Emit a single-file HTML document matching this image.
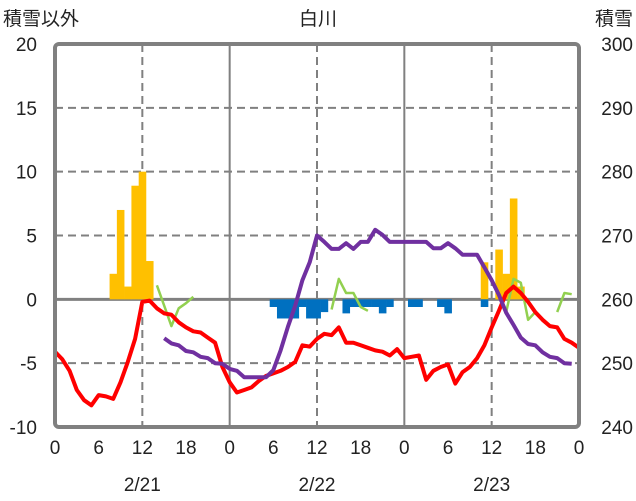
<!DOCTYPE html>
<html><head><meta charset="utf-8"><style>
body{margin:0;background:#fff;width:636px;height:501px;overflow:hidden}
svg{display:block;font-family:"Liberation Sans","Noto Sans CJK JP",sans-serif}
</style></head><body>
<svg id="chart" width="636" height="501" viewBox="0 0 636 501">
<g id="grid"></g>
<g id="bars"></g>
<g id="lines"></g>
<rect x="55" y="44" width="524" height="383" rx="4" fill="none" stroke="#808080" stroke-width="4"/>
<g id="labels"></g>
<text x="3" y="25" font-size="19" fill="#222">積雪以外</text>
<text x="318" y="25" font-size="19" fill="#222" text-anchor="middle">白川</text>
<text x="633" y="25" font-size="19" fill="#222" text-anchor="end">積雪</text>
</svg>
<script>
const leftTicks=[20,15,10,5,0,-5,-10];
const rightTicks=[300,290,280,270,260,250,240];
const hourTicks=[0,6,12,18,0,6,12,18,0,6,12,18,0];
const dayLabels=["2/21","2/22","2/23"];
const N=null;
const temp=[-4.1,-4.7,-5.6,-7.1,-7.9,-8.3,-7.5,-7.6,-7.8,-6.5,-4.9,-3.1,-0.2,-0.1,-0.7,-1.1,-1.2,-1.8,-2.2,-2.5,-2.6,-3.0,-3.4,-5.3,
-6.5,-7.3,-7.1,-6.9,-6.4,-6.0,-5.8,-5.6,-5.3,-4.9,-3.6,-3.7,-3.1,-2.7,-2.8,-2.2,-3.4,-3.4,-3.6,-3.8,-4.0,-4.1,-4.4,-3.9,
-4.6,-4.5,-4.4,-6.3,-5.6,-5.3,-5.1,-6.6,-5.7,-5.3,-4.6,-3.6,-2.2,-0.9,0.5,1.0,0.5,-0.2,-1.0,-1.6,-2.1,-2.2,-3.1,-3.4,-3.8];
const snowDepth=[N,N,N,N,N,N,N,N,N,N,N,N,N,N,N,253.9,253.1,252.8,251.9,251.7,251.0,250.8,250.0,249.9,
249.1,248.8,247.8,247.8,247.8,247.8,248.9,252.0,255.7,259.0,263.0,265.8,270.0,269.0,267.9,267.9,268.8,267.9,269.0,269.0,270.9,270.1,269.0,269.0,
269.0,269.0,269.0,269.0,268.0,268.0,268.8,268.0,267.0,267.0,267.0,265.0,263.0,260.7,257.9,256.0,254.0,253.0,252.8,251.7,251.0,250.8,250.0,249.9];
const wind=[N,N,N,N,N,N,N,N,N,N,N,N,N,N,1.1,-0.5,-2.1,-0.7,-0.3,0.2,N,N,N,N,
N,N,N,N,N,N,N,N,N,N,N,N,N,N,-0.8,1.6,0.5,0.5,-0.6,-0.9,N,N,N,N,
N,N,N,N,N,N,N,N,N,N,N,N,N,N,-1.0,1.6,1.3,-1.6,-1.0,N,N,-1.0,0.5,0.4];
const precipHours=[8,9,10,11,12,13,59,61,62,63,64];
const precipValues=[2,7,1,8.9,10,3,2.9,3.9,2.0,7.9,1.0];
const meltHours=[30,31,32,33,34,35,36,37,40,41,42,43,44,45,46,49,50,53,54,59];
const meltValues=[-0.6,-1.5,-1.5,-1.5,-0.6,-1.5,-1.5,-1.0,-1.1,-0.6,-0.6,-0.6,-0.6,-1.1,-0.6,-0.6,-0.6,-0.6,-1.1,-0.6];

const NS="http://www.w3.org/2000/svg";
const X0=55,X1=579,Y0=44,Y1=427;
const xs=h=>X0+(X1-X0)*h/72;
const yL=v=>Y1-(v+10)/30*(Y1-Y0);
const yR=v=>Y1-(v-240)/60*(Y1-Y0);
function mk(tag,attrs,parent){const e=document.createElementNS(NS,tag);for(const k in attrs)e.setAttribute(k,attrs[k]);parent.appendChild(e);return e;}
const grid=document.getElementById('grid'),bars=document.getElementById('bars'),lines=document.getElementById('lines'),labels=document.getElementById('labels');
// horizontal grid
leftTicks.forEach((v,i)=>{
  if(v===0||v===20||v===-10)return;
  const l=mk('line',{x1:X0,x2:X1,y1:yL(v),y2:yL(v),stroke:'#808080','stroke-width':2,'stroke-dasharray':'8,5'},grid);
  
  
});
// vertical grid
for(let h=12;h<72;h+=12){
  const solid=h%24===0;
  const l=mk('line',{x1:xs(h),x2:xs(h),y1:Y0,y2:Y1,stroke:'#808080','stroke-width':2},grid);
  if(!solid)l.setAttribute('stroke-dasharray','8,5');
  
  
}
// bars
precipHours.forEach((h,i)=>{
  const v=precipValues[i];
  const r=mk('rect',{x:xs(h-0.5),y:yL(v),width:xs(1)-X0+0.3,height:yL(0)-yL(v),fill:'#ffc000'},bars);
  
  
});
meltHours.forEach((h,i)=>{
  const v=meltValues[i];
  const r=mk('rect',{x:xs(h-0.5),y:yL(0),width:xs(1)-X0+0.3,height:yL(v)-yL(0),fill:'#0070c0'},bars);
  
  
});
// zero line
const z=mk('line',{x1:X0,x2:X1,y1:yL(0),y2:yL(0),stroke:'#808080','stroke-width':3},grid);


function path(arr,yf,color,w,name){
  let d='',pen=false;
  arr.forEach((v,h)=>{if(v===null){pen=false;return;}d+=(pen?'L':'M')+xs(h).toFixed(1)+' '+yf(v).toFixed(1);pen=true;});
  const p=mk('path',{d:d,fill:'none',stroke:color,'stroke-width':w,'stroke-linejoin':'round'},lines);
  
  
}
path(wind,yL,'#92d050',2.5,'green-series-line');
path(temp,yL,'#ff0000',4,'temperature-line');
path(snowDepth,yR,'#7030a0',4,'snow-depth-line');
// labels
leftTicks.forEach(v=>{
  const t=mk('text',{x:37,y:yL(v)+7,'font-size':19,fill:'#222','text-anchor':'end'},labels);
  t.textContent=v;
  
  
});
rightTicks.forEach(v=>{
  const t=mk('text',{x:633,y:yR(v)+7,'font-size':19,fill:'#222','text-anchor':'end'},labels);
  t.textContent=v;
  
  
});
hourTicks.forEach((v,i)=>{
  const t=mk('text',{x:xs(i*6),y:454,'font-size':19,fill:'#222','text-anchor':'middle'},labels);
  t.textContent=v;
  
  
});
dayLabels.forEach((v,i)=>{
  const t=mk('text',{x:xs(i*24+12),y:491,'font-size':19,fill:'#222','text-anchor':'middle'},labels);
  t.textContent=v;
  
  
});
</script>
</body></html>
